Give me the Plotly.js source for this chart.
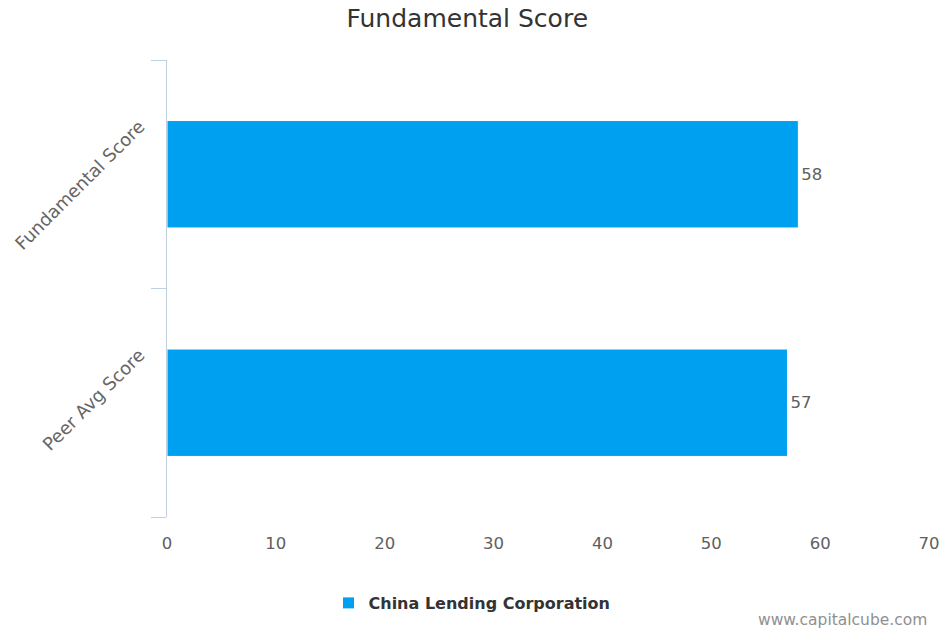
<!DOCTYPE html>
<html>
<head>
<meta charset="utf-8">
<script src="https://cdn.plot.ly/plotly-3.0.1.min.js"></script>
<style>html,body{margin:0;padding:0;background:#fff;}#chart{width:944px;height:630px;}</style>
</head>
<body>
<div id="chart"></div>
<script>
const categories = ["Fundamental Score", "Peer Avg Score"];
const scores = [58, 57];
const seriesName = "China Lending Corporation";
const chartTitle = "Fundamental Score";
const xTicks = [0, 10, 20, 30, 40, 50, 60, 70];
const creditText = "www.capitalcube.com";

const FONT = "DejaVu Sans, Verdana, sans-serif";

const trace = {
  type: "bar",
  orientation: "h",
  y: categories,
  x: scores,
  name: seriesName,
  marker: { color: "#00a0f0", line: { color: "#ffffff", width: 1 } },
  text: scores.map(String),
  textposition: "outside",
  textfont: { family: FONT, size: 16.5, color: "#606060" },
  cliponaxis: false,
  hoverinfo: "x+y"
};

const layout = {
  width: 944,
  height: 630,
  margin: { l: 167, r: 15, t: 60, b: 113 },
  paper_bgcolor: "#ffffff",
  plot_bgcolor: "#ffffff",
  font: { family: FONT, color: "#606060" },
  title: {
    text: chartTitle,
    font: { family: FONT, size: 25, color: "#333333" },
    xref: "container", x: 0.495, xanchor: "center",
    yref: "container", y: 1 - 18 / 630, yanchor: "middle"
  },
  bargap: 0.53,
  showlegend: true,
  legend: {
    orientation: "h",
    xref: "container", x: 0.5, xanchor: "center",
    yref: "container", y: 1 - 603 / 630, yanchor: "middle",
    font: { family: FONT, size: 16, color: "#333333", weight: "bold" }
  },
  xaxis: {
    range: [0, 70],
    tickmode: "array",
    tickvals: xTicks,
    ticktext: xTicks.map(String),
    showgrid: false,
    zeroline: false,
    showline: false,
    ticks: "",
    ticklabelstandoff: 14,
    tickfont: { family: FONT, size: 16.5, color: "#606060" },
    fixedrange: true
  },
  yaxis: {
    type: "category",
    categoryorder: "array",
    categoryarray: categories.slice().reverse(),
    range: [-0.5, categories.length - 0.5],
    showgrid: false,
    zeroline: false,
    showline: true,
    linecolor: "#c0d0e0",
    linewidth: 1,
    ticks: "outside",
    tickson: "boundaries",
    ticklen: 15,
    tickcolor: "#c0d0e0",
    tickwidth: 1,
    tickangle: -45,
    ticklabelshift: -50,
    ticklabelstandoff: 23,
    tickfont: { family: FONT, size: 18, color: "#666666" },
    fixedrange: true
  },
  annotations: [{
    text: creditText,
    xref: "paper", x: 1, xanchor: "right",
    yref: "paper", y: (517 - 620) / 457, yanchor: "middle",
    showarrow: false,
    font: { family: FONT, size: 15.5, color: "#909090" }
  }]
};

Plotly.newPlot("chart", [trace], layout, { displayModeBar: false, staticPlot: true });
</script>
</body>
</html>
